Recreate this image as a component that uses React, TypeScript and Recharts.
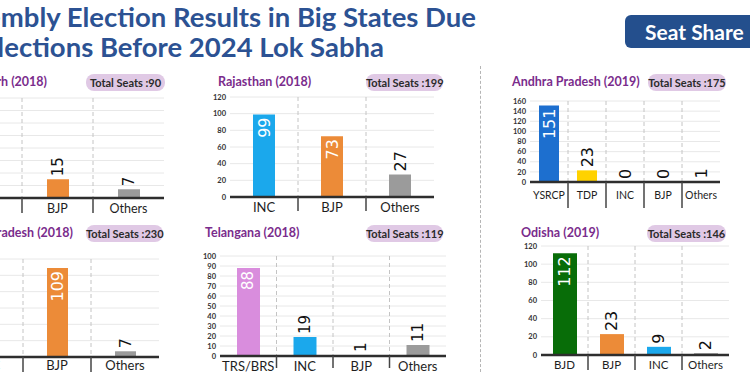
import React from 'react';
import { ComposedChart, Bar, Line, XAxis, YAxis, CartesianGrid, Cell, LabelList } from 'recharts';

// ---- Data ----
const chhParties = ['INC', 'BJP', 'Others'];
const chhSeats = [68, 15, 7];
const chhTicks = [0, 10, 20, 30, 40, 50, 60, 70, 80];

const rajParties = ['INC', 'BJP', 'Others'];
const rajSeats = [99, 73, 27];
const rajTicks = [0, 20, 40, 60, 80, 100, 120];

const apParties = ['YSRCP', 'TDP', 'INC', 'BJP', 'Others'];
const apSeats = [151, 23, 0, 0, 1];
const apTicks = [0, 20, 40, 60, 80, 100, 120, 140, 160];

const mpParties = ['INC', 'BJP', 'Others'];
const mpSeats = [114, 109, 7];
const mpTicks = [0, 20, 40, 60, 80, 100, 120];

const tgParties = ['TRS/BRS', 'INC', 'BJP', 'Others'];
const tgSeats = [88, 19, 1, 11];
const tgTicks = [0, 10, 20, 30, 40, 50, 60, 70, 80, 90, 100];

const odParties = ['BJD', 'BJP', 'INC', 'Others'];
const odSeats = [112, 23, 9, 2];
const odTicks = [0, 20, 40, 60, 80, 100, 120];

const titleLine1 = 'Assembly Election Results in Big States Due';
const titleLine2 = 'to Elections Before 2024 Lok Sabha';

// ---- Styles ----
const partyColors: Record<string, string> = {
  INC: '#1ba8ec',
  BJP: '#ec8b38',
  Others: '#9b9b9b',
  YSRCP: '#1d6fcf',
  TDP: '#ffd200',
  'TRS/BRS': '#d98ddd',
  BJD: '#086d08',
};

const YW = 22;
const MT = 6;
const MR = 4;
const XH = 32;

type PanelProps = {
  parties: string[];
  seats: number[];
  ticks: number[];
  pl: number;
  pr: number;
  pt: number;
  pb: number;
  barSize: number;
  labelFont: number;
  catFont: number;
  catDy: number;
  tickLen: number;
};

const Panel = (p: PanelProps) => {
  const data = p.parties.map((party, i) => ({ party, v: p.seats[i] }));
  const n = p.parties.length;
  const max = p.ticks[p.ticks.length - 1];
  const half = (p.pr - p.pl) / n / 2;
  const width = YW + (p.pr - p.pl) + MR;
  const height = p.pb - p.pt + MT + XH;

  const CatTick = (tp: any) => {
    const x = Number(tp.x);
    const y = Number(tp.y);
    const idx = tp.index;
    return (
      <g>
        <text
          x={x}
          y={y + p.catDy}
          textAnchor="middle"
          dominantBaseline="central"
          fontSize={p.catFont}
          fontFamily="Lato"
          fill="#1e1e1e"
        >
          {tp.payload.value}
        </text>
        {idx < n - 1 && (
          <line x1={x + half} x2={x + half} y1={y} y2={y + p.tickLen} stroke="#444" strokeWidth={1.5} />
        )}
      </g>
    );
  };

  const renderLabel = (lp: any) => {
    const cx = Number(lp.x);
    const y = Number(lp.y);
    const value = Number(lp.value);
    const inside = value / max > 0.4;
    if (inside) {
      return (
        <text
          transform={`translate(${cx},${y + 3}) rotate(-90)`}
          textAnchor="end"
          dominantBaseline="central"
          fontSize={p.labelFont}
          fontFamily="DejaVu Sans"
          fill="#ffffff"
        >
          {value}
        </text>
      );
    }
    return (
      <text
        transform={`translate(${cx},${y - 3}) rotate(-90)`}
        textAnchor="start"
        dominantBaseline="central"
        fontSize={p.labelFont}
        fontFamily="DejaVu Sans"
        fill="#111"
      >
        {value}
      </text>
    );
  };

  return (
    <div style={{ position: 'absolute', left: p.pl - YW, top: p.pt - MT }}>
      <ComposedChart width={width} height={height} data={data} margin={{ top: MT, right: MR, bottom: 0, left: 0 }}>
        <CartesianGrid vertical={false} stroke="#e8e8e8" />
        <CartesianGrid
          horizontal={false}
          stroke="#c4c4c4"
          strokeDasharray="4 3"
          verticalCoordinatesGenerator={({ offset }: any) =>
            Array.from({ length: n - 1 }, (_, i) => offset.left + ((i + 1) * offset.width) / n)
          }
        />
        <YAxis
          width={YW}
          domain={[0, max]}
          ticks={p.ticks}
          interval={0}
          tickLine={false}
          axisLine={false}
          tickSize={3}
          tickMargin={1}
          tick={{ fontSize: 7.5, fontFamily: 'Lato', fontWeight: 700, fill: '#333' }}
        />
        <XAxis
          dataKey="party"
          height={XH}
          interval={0}
          tickLine={false}
          tickSize={0}
          tickMargin={0}
          axisLine={{ stroke: '#2e2e2e', strokeWidth: 2.5 }}
          tick={CatTick}
        />
        <Bar dataKey="v" barSize={p.barSize} isAnimationActive={false}>
          {data.map((d) => (
            <Cell key={d.party} fill={partyColors[d.party]} />
          ))}
        </Bar>
        <Line
          dataKey="v"
          stroke="none"
          dot={false}
          activeDot={false}
          isAnimationActive={false}
          legendType="none"
        >
          <LabelList dataKey="v" content={renderLabel} />
        </Line>
      </ComposedChart>
    </div>
  );
};

const Title = ({ text, left, right, top }: { text: string; left?: number; right?: number; top: number }) => (
  <div
    style={{
      position: 'absolute',
      left,
      right: right !== undefined ? 750 - right : undefined,
      top,
      whiteSpace: 'nowrap',
      fontFamily: 'Lato',
      fontWeight: 700,
      fontSize: 12.5,
      color: '#7a2c8c',
      lineHeight: '16px',
    }}
  >
    {text}
  </div>
);

const Badge = ({ total, left, right, top }: { total: number; left: number; right: number; top: number }) => (
  <div
    style={{
      position: 'absolute',
      left,
      top,
      width: right - left,
      height: 17,
      borderRadius: 8,
      background: '#e0c9e5',
      fontFamily: 'Lato',
      fontWeight: 700,
      fontSize: 11,
      color: '#2a2a2a',
      lineHeight: '17px',
      textAlign: 'center',
      whiteSpace: 'nowrap',
    }}
  >
    {`Total Seats :${total}`}
  </div>
);

export default function App() {
  return (
    <div
      style={{
        position: 'absolute',
        left: 0,
        top: 0,
        width: 750,
        height: 375,
        overflow: 'hidden',
        background: '#ffffff',
        fontFamily: 'Lato',
      }}
    >
      <div
        style={{
          position: 'absolute',
          right: 750 - 476,
          top: 2,
          whiteSpace: 'nowrap',
          fontFamily: 'Lato',
          fontWeight: 700,
          fontSize: 27.5,
          lineHeight: '30px',
          color: '#2c5293',
          textAlign: 'right',
        }}
      >
        {titleLine1}
      </div>
      <div
        style={{
          position: 'absolute',
          right: 750 - 384,
          top: 32,
          whiteSpace: 'nowrap',
          fontFamily: 'Lato',
          fontWeight: 700,
          fontSize: 27.5,
          lineHeight: '30px',
          color: '#2c5293',
          textAlign: 'right',
        }}
      >
        {titleLine2}
      </div>
      <div
        style={{
          position: 'absolute',
          left: 625,
          top: 15,
          width: 140,
          height: 33,
          borderRadius: 6,
          background: '#244f8d',
          color: '#fff',
          fontFamily: 'Lato',
          fontWeight: 700,
          fontSize: 21,
          lineHeight: '33px',
          paddingLeft: 20,
          boxSizing: 'border-box',
          whiteSpace: 'nowrap',
        }}
      >
        Seat Share
      </div>

      <div
        style={{
          position: 'absolute',
          left: 480,
          top: 66,
          width: 0,
          height: 306,
          borderLeft: '1.5px dashed #b5b5b5',
        }}
      />

      <Title text="Chhattisgarh (2018)" right={47} top={74} />
      <Badge total={90} left={86} right={165} top={74} />
      <Title text="Rajasthan (2018)" left={218} top={74} />
      <Badge total={199} left={366} right={443} top={74} />
      <Title text="Andhra Pradesh (2019)" left={512} top={74} />
      <Badge total={175} left={648} right={726} top={74} />

      <Title text="Madhya Pradesh (2018)" right={73} top={225} />
      <Badge total={230} left={86} right={163} top={225} />
      <Title text="Telangana (2018)" left={205} top={225} />
      <Badge total={119} left={366} right={443} top={225} />
      <Title text="Odisha (2019)" left={521} top={225} />
      <Badge total={146} left={647} right={726} top={225} />

      <Panel parties={chhParties} seats={chhSeats} ticks={chhTicks} pl={-49} pr={164} pt={98} pb={198} barSize={22} labelFont={15} catFont={12.5} catDy={10} tickLen={15} />
      <Panel parties={rajParties} seats={rajSeats} ticks={rajTicks} pl={230} pr={434} pt={97} pb={197} barSize={22} labelFont={16} catFont={13} catDy={10} tickLen={14} />
      <Panel parties={apParties} seats={apSeats} ticks={apTicks} pl={530} pr={720} pt={101} pb={182} barSize={20} labelFont={16} catFont={10.5} catDy={13} tickLen={26} />
      <Panel parties={mpParties} seats={mpSeats} ticks={mpTicks} pl={-45} pr={159} pt={259} pb={357} barSize={21} labelFont={16} catFont={13} catDy={8} tickLen={15} />
      <Panel parties={tgParties} seats={tgSeats} ticks={tgTicks} pl={220} pr={446} pt={256} pb={356} barSize={23} labelFont={15} catFont={13} catDy={10} tickLen={12} />
      <Panel parties={odParties} seats={odSeats} ticks={odTicks} pl={541} pr={729} pt={246} pb={355} barSize={24} labelFont={16} catFont={11.5} catDy={9} tickLen={15} />
    </div>
  );
}
